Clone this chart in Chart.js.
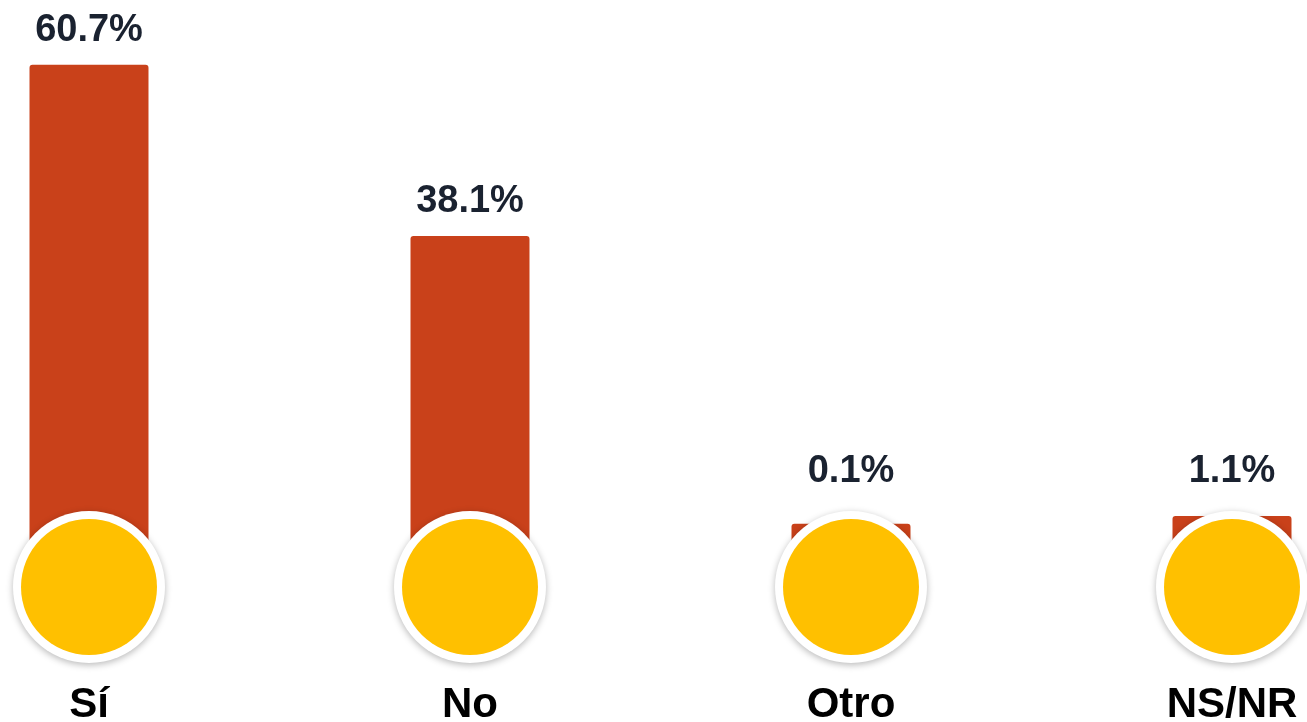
<!DOCTYPE html>
<html>
<head>
<meta charset="utf-8">
<script src="https://cdn.jsdelivr.net/npm/chart.js@4/dist/chart.umd.min.js"></script>
<style>
  html, body { margin: 0; padding: 0; background: #fff; }
  #wrap { width: 1307px; height: 722px; position: relative; }
</style>
</head>
<body>
<div id="wrap"><canvas id="chart"></canvas></div>
<script>
  // data
  const categories = ['Sí', 'No', 'Otro', 'NS/NR'];
  const values = [60.7, 38.1, 0.1, 1.1];
  const valueLabels = ['60.7%', '38.1%', '0.1%', '1.1%'];

  const BAR_COLOR = '#C9411A';
  const DOT_COLOR = '#FFC000';
  const FONT = '"Liberation Sans", Arial, sans-serif';

  // labels above bars, yellow medallions on the baseline, category names below
  const decorations = {
    id: 'decorations',
    afterDatasetsDraw(chart){
      const ctx = chart.ctx;
      const meta = chart.getDatasetMeta(0);
      const xScale = chart.scales.x;
      const area = chart.chartArea;
      const cy = area.bottom + 2;

      meta.data.forEach((bar, i) => {
        // value label
        ctx.save();
        ctx.font = 'bold 38px ' + FONT;
        ctx.fillStyle = '#1A2230';
        ctx.textAlign = 'center';
        ctx.textBaseline = 'alphabetic';
        const top = Math.min(bar.y, area.bottom - 79);
        ctx.fillText(valueLabels[i], bar.x, top - 24);
        ctx.restore();

        // circle
        ctx.save();
        ctx.shadowColor = 'rgba(0,0,0,0.28)';
        ctx.shadowBlur = 7;
        ctx.shadowOffsetY = 2;
        ctx.fillStyle = '#fff';
        ctx.beginPath(); ctx.arc(bar.x, cy, 76, 0, Math.PI * 2); ctx.fill();
        ctx.restore();

        ctx.save();
        ctx.fillStyle = DOT_COLOR;
        ctx.beginPath(); ctx.arc(bar.x, cy, 68, 0, Math.PI * 2); ctx.fill();
        ctx.restore();

        // category label
        ctx.save();
        ctx.font = 'bold 42px ' + FONT;
        ctx.fillStyle = '#000';
        ctx.textAlign = 'center';
        ctx.textBaseline = 'alphabetic';
        ctx.fillText(categories[i], xScale.getPixelForValue(i), 717);
        ctx.restore();
      });
    }
  };

  new Chart(document.getElementById('chart'), {
    type: 'bar',
    data: {
      labels: categories,
      datasets: [{
        data: values,
        base: -8,
        backgroundColor: BAR_COLOR,
        borderWidth: 0,
        borderRadius: 3,
        borderSkipped: 'bottom',
        categoryPercentage: 1,
        barPercentage: 0.3123,
        clip: false
      }]
    },
    options: {
      responsive: true,
      maintainAspectRatio: false,
      animation: false,
      layout: { padding: { left: 89, right: 75, top: 2, bottom: 137 } },
      plugins: { legend: { display: false }, tooltip: { enabled: false } },
      scales: {
        x: {
          display: false,
          offset: false
        },
        y: {
          display: false,
          min: -8,
          max: 69
        }
      }
    },
    plugins: [decorations]
  });
</script>
</body>
</html>
